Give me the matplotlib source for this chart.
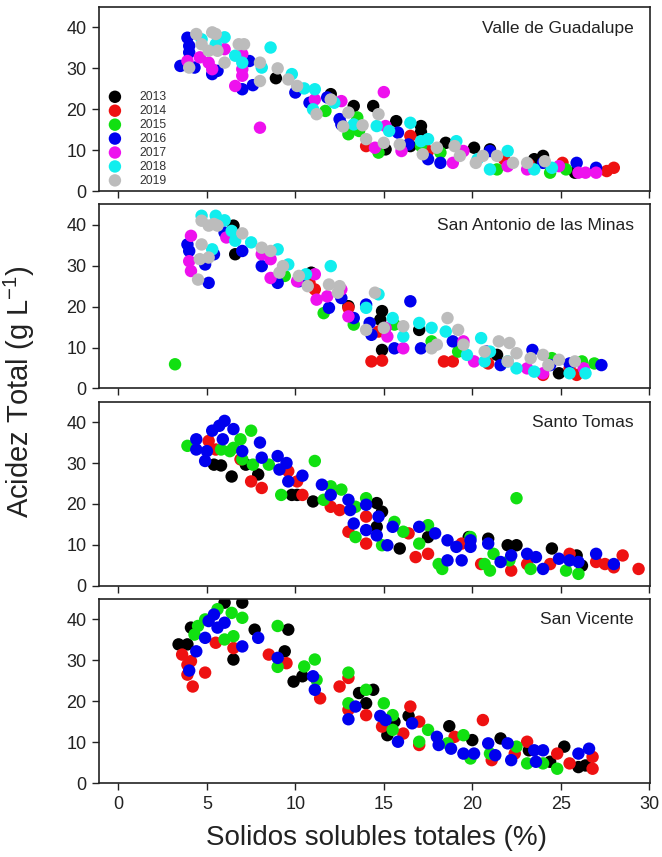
import matplotlib
matplotlib.use("Agg")
import matplotlib.pyplot as plt

plt.rcParams['font.family'] = ['Liberation Sans', 'DejaVu Sans']
plt.rcParams['mathtext.fontset'] = 'custom'
plt.rcParams['mathtext.rm'] = 'Liberation Sans'
plt.rcParams['mathtext.it'] = 'Liberation Sans:italic'
plt.rcParams['mathtext.bf'] = 'Liberation Sans:bold'

years = ["2013", "2014", "2015", "2016", "2017", "2018", "2019"]
colors = ["#000000", "#ee1111", "#11e011", "#0000ee", "#ee11ee", "#11eeee", "#bcbcbc"]
sites = ["Valle de Guadalupe", "San Antonio de las Minas", "Santo Tomas", "San Vicente"]

# Valle de Guadalupe: solidos solubles (x) vs acidez total (y), by year
vg_x = {
    "2013": [8.9, 12.0, 13.3, 14.4, 15.1, 15.7, 17.1, 17.1, 18.5, 20.1, 21.0, 23.5, 24.0, 25.8, 16.5],
    "2014": [14.0, 16.5, 17.5, 21.8, 25.1, 27.6, 28.0, 23.2],
    "2015": [11.7, 13.0, 13.5, 13.6, 14.7, 17.1, 21.4, 24.4, 25.3, 18.2],
    "2016": [3.5, 3.9, 4.0, 4.0, 4.3, 5.3, 5.6, 7.4, 7.0, 7.6, 10.0, 10.8, 11.8, 12.5, 12.6, 15.8,
             16.4, 17.5, 18.2, 21.0, 25.9, 27.0, 24.0],
    "2017": [3.9, 4.6, 5.1, 5.3, 6.0, 6.6, 7.0, 7.0, 7.0, 8.0, 11.1, 12.6, 14.5, 15.0, 15.1, 16.0,
             18.9, 22.0, 23.1, 24.9, 26.0, 26.4, 27.0, 19.5],
    "2018": [4.7, 6.0, 5.5, 6.6, 7.0, 8.1, 8.6, 9.8, 10.5, 11.1, 11.0, 12.2, 13.3, 14.6, 15.3, 16.5,
             17.1, 19.1, 20.3, 21.0, 22.0, 23.5, 24.5, 17.5],
    "2019": [4.4, 5.3, 5.5, 4.7, 5.1, 5.6, 6.0, 4.0, 6.8, 7.1, 8.0, 8.0, 9.0, 9.6, 10.1, 11.2, 12.0,
             12.7, 13.0, 13.8, 14.0, 14.7, 15.0, 15.9, 17.2, 18.0, 19.0, 19.3, 20.2, 20.6, 21.4, 22.3,
             23.1, 24.1],
}
vg_y = {
    "2013": [27.6, 23.7, 20.8, 20.8, 10.2, 17.1, 15.9, 14.4, 11.8, 10.6, 10.2, 7.8, 8.6, 4.5, 11.0],
    "2014": [11.0, 13.5, 9.8, 7.8, 6.9, 4.9, 5.7, 6.5],
    "2015": [19.6, 13.9, 18.0, 14.7, 9.4, 11.0, 5.3, 4.5, 5.3, 9.4],
    "2016": [30.6, 37.5, 35.5, 33.9, 30.2, 28.6, 29.4, 31.8, 24.9, 25.9, 24.1, 21.6, 22.9, 17.6, 16.3,
             14.3, 11.4, 7.8, 6.9, 9.8, 6.9, 5.7, 6.9],
    "2017": [31.8, 32.7, 31.4, 29.8, 34.7, 25.7, 28.2, 33.5, 29.8, 15.5, 22.4, 22.0, 10.6, 24.2, 15.9,
             9.8, 6.9, 6.1, 5.3, 6.1, 4.5, 4.5, 4.5, 9.8],
    "2018": [37.1, 37.6, 35.9, 33.1, 31.4, 30.2, 35.1, 28.6, 25.1, 24.9, 20.0, 21.6, 16.3, 15.9, 14.7,
             16.7, 12.2, 12.2, 7.8, 5.3, 9.8, 5.3, 5.7, 12.7],
    "2019": [38.4, 38.8, 38.4, 35.9, 34.3, 34.3, 31.4, 30.2, 35.9, 35.9, 31.4, 26.9, 30.0, 27.3, 25.7,
             18.8, 22.4, 15.8, 19.2, 16.1, 12.7, 18.8, 11.8, 11.4, 9.0, 10.6, 11.0, 8.6, 6.9, 8.6, 8.6,
             6.9, 6.9, 7.3],
}

# San Antonio de las Minas
sa_x = {
    "2013": [6.5, 6.6, 10.9, 13.0, 14.9, 14.9, 14.8, 17.0, 21.4, 24.9],
    "2014": [10.8, 11.1, 13.0, 14.3, 14.9, 14.7, 18.4, 18.9, 20.9, 24.0, 25.9, 25.5],
    "2015": [3.2, 9.4, 11.6, 13.3, 15.6, 17.7, 19.2, 24.5, 26.2, 26.9],
    "2016": [3.9, 4.0, 5.1, 4.9, 5.4, 6.0, 7.0, 8.1, 9.0, 10.2, 11.9, 12.6, 13.3, 14.0, 14.3, 14.2,
             15.6, 16.5, 17.1, 18.9, 20.8, 23.4, 24.4, 25.5, 27.3, 21.6],
    "2017": [4.0, 4.1, 4.1, 6.1, 8.1, 8.6, 8.6, 10.1, 11.1, 11.2, 11.8, 12.6, 13.0, 15.2, 15.1, 16.1,
             19.5, 20.1, 23.1, 24.0, 26.3],
    "2018": [4.7, 5.5, 6.0, 6.4, 6.6, 7.5, 9.0, 9.6, 10.6, 12.0, 14.0, 14.7, 5.3, 15.5, 17.0, 17.7,
             18.5, 20.5, 16.1, 19.7, 20.7, 22.0, 22.5, 23.5, 25.5, 26.4, 21.0],
    "2019": [4.7, 5.1, 5.4, 5.6, 4.7, 4.6, 4.5, 5.1, 7.0, 8.1, 8.6, 9.1, 9.3, 10.2, 10.7, 11.9, 12.5,
             12.4, 14.0, 14.5, 15.0, 16.1, 17.7, 18.6, 19.2, 18.0, 19.5, 21.5, 22.1, 20.7, 22.5, 23.3,
             24.0, 24.3, 24.9, 25.8, 22.0],
}
sa_y = {
    "2013": [39.8, 32.8, 28.3, 20.1, 18.9, 9.4, 16.8, 14.3, 8.2, 3.7],
    "2014": [25.8, 24.2, 19.7, 6.6, 6.8, 13.9, 6.6, 6.6, 6.1, 3.3, 3.3, 4.9],
    "2015": [5.9, 27.5, 18.4, 15.6, 15.6, 11.5, 9.0, 7.4, 6.6, 6.1],
    "2016": [35.2, 33.6, 25.8, 30.3, 32.8, 38.1, 33.6, 29.9, 25.8, 26.2, 19.7, 22.1, 17.2, 20.5, 13.1,
             16.0, 9.8, 21.3, 9.8, 11.5, 9.0, 9.4, 5.7, 6.1, 5.7, 5.7],
    "2017": [31.1, 28.7, 37.3, 36.9, 32.8, 31.6, 27.0, 26.2, 27.9, 21.7, 22.5, 24.2, 17.6, 12.7, 14.8,
             9.8, 11.5, 6.6, 4.9, 3.7, 4.9],
    "2018": [42.2, 42.2, 41.1, 38.5, 36.1, 35.7, 34.0, 30.3, 27.9, 29.9, 19.7, 23.0, 34.0, 17.2, 16.0,
             14.8, 13.9, 12.3, 12.7, 8.2, 6.6, 6.6, 4.9, 4.1, 3.7, 3.7, 9.0],
    "2019": [41.0, 39.8, 40.2, 39.8, 35.2, 31.6, 26.6, 32.0, 37.9, 34.4, 33.6, 28.3, 29.9, 27.5, 25.0,
             25.4, 25.0, 23.4, 14.3, 23.4, 14.8, 15.2, 9.8, 17.2, 14.3, 10.7, 10.7, 11.5, 11.1, 9.0, 8.6,
             7.4, 8.2, 5.7, 7.0, 6.6, 6.6],
}

# Santo Tomas (2013-2016 only)
st_x = {
    "2013": [5.4, 5.8, 6.4, 7.9, 9.8, 10.1, 11.0, 14.6, 14.9, 14.6, 15.9, 7.2, 17.5, 19.8, 20.9, 22.0,
             22.5, 24.5, 25.9, 26.2],
    "2014": [5.1, 5.5, 7.5, 8.1, 6.9, 9.6, 10.1, 10.4, 12.0, 12.5, 13.0, 14.0, 14.0, 16.8, 16.4, 17.5,
             19.4, 20.5, 22.2, 23.1, 25.5, 27.0, 27.5, 28.0, 28.5, 29.4, 24.4],
    "2015": [3.9, 6.3, 6.9, 7.5, 7.0, 7.6, 8.5, 9.2, 11.1, 11.6, 12.0, 12.6, 13.4, 14.0, 13.4, 14.9,
             15.6, 5.8, 6.5, 16.1, 17.0, 17.5, 18.1, 18.3, 19.9, 20.7, 21.0, 22.5, 22.1, 23.3, 25.3,
             26.0, 21.2],
    "2016": [4.4, 4.4, 5.0, 4.9, 5.3, 5.7, 6.0, 5.9, 6.5, 7.0, 8.0, 8.1, 9.0, 9.5, 9.1, 9.6, 10.4,
             11.5, 12.0, 13.0, 13.1, 13.3, 14.0, 14.7, 14.0, 14.6, 15.5, 15.2, 17.0, 17.9, 18.6, 19.1,
             18.6, 19.4, 19.9, 20.9, 21.6, 22.2, 23.1, 23.6, 24.0, 24.9, 25.5, 26.0, 27.0, 28.0, 19.9],
}
st_y = {
    "2013": [29.6, 29.4, 26.7, 27.2, 22.2, 22.2, 20.6, 20.2, 18.1, 14.4, 9.1, 29.6, 11.9, 11.9, 11.5,
             9.9, 9.9, 9.1, 7.4, 4.9],
    "2014": [35.4, 33.3, 25.5, 23.9, 30.9, 28.0, 25.5, 22.2, 19.3, 18.5, 13.2, 10.3, 16.9, 7.0, 12.8,
             7.8, 10.3, 5.3, 3.7, 5.3, 7.8, 5.8, 5.3, 4.5, 7.4, 4.1, 5.3],
    "2015": [34.2, 32.9, 35.8, 37.9, 30.9, 29.6, 29.6, 22.2, 30.5, 21.0, 24.3, 23.5, 19.3, 21.4, 11.9,
             9.9, 15.6, 33.3, 33.7, 13.2, 10.3, 14.8, 5.3, 4.1, 11.9, 5.3, 3.7, 21.4, 6.2, 4.1, 3.7,
             2.9, 7.8],
    "2016": [35.8, 33.3, 32.9, 30.5, 37.9, 39.1, 40.3, 35.8, 38.3, 32.9, 35.0, 31.3, 31.7, 30.0, 28.4,
             25.5, 26.9, 24.7, 22.2, 21.0, 18.5, 15.2, 19.8, 16.9, 13.6, 12.3, 14.4, 9.9, 14.4, 12.8,
             11.1, 9.5, 6.2, 6.2, 11.1, 10.3, 5.8, 7.4, 7.8, 7.0, 4.1, 6.6, 6.2, 5.8, 7.8, 5.3, 9.5],
}

# San Vicente (2013-2016 only)
sv_x = {
    "2013": [3.4, 3.9, 4.1, 6.0, 7.0, 7.7, 6.5, 9.4, 9.6, 9.9, 10.4, 13.6, 14.4, 14.0, 15.2, 15.6,
             16.4, 18.7, 20.0, 21.6, 23.2, 25.2, 26.0, 26.4, 24.4],
    "2014": [3.6, 3.9, 3.9, 4.1, 4.2, 4.9, 5.5, 6.5, 8.5, 9.5, 11.4, 12.5, 13.0, 13.0, 14.0, 14.9,
             16.5, 17.0, 17.0, 16.1, 19.0, 20.6, 21.1, 23.1, 24.8, 25.5, 26.8, 26.8, 22.4],
    "2015": [4.5, 4.9, 5.6, 6.4, 7.0, 6.0, 6.5, 9.0, 9.0, 10.5, 11.1, 11.2, 13.0, 13.0, 14.0, 15.0,
             15.5, 15.5, 4.3, 17.0, 17.5, 19.5, 19.9, 21.0, 22.5, 23.1, 24.0, 24.8, 18.6],
    "2016": [4.0, 4.4, 4.9, 5.1, 5.4, 5.6, 6.0, 7.0, 7.9, 9.0, 11.0, 11.1, 13.0, 13.4, 14.8, 15.1,
             15.8, 16.6, 18.0, 18.1, 18.8, 19.5, 20.1, 20.9, 21.3, 22.0, 22.2, 23.5, 23.6, 24.0, 26.0,
             26.6],
}
sv_y = {
    "2013": [33.9, 33.9, 38.0, 44.1, 44.1, 37.5, 30.2, 32.2, 37.5, 24.8, 26.1, 22.0, 22.8, 19.5, 11.7,
             15.0, 16.4, 13.9, 10.5, 10.9, 8.0, 8.9, 3.9, 4.3, 5.2],
    "2014": [31.4, 28.9, 26.5, 29.8, 23.6, 27.0, 34.3, 33.0, 31.4, 29.3, 20.7, 23.6, 25.7, 17.9, 16.6,
             13.8, 18.7, 15.0, 9.3, 12.1, 11.3, 15.4, 5.6, 10.1, 7.2, 4.8, 6.4, 3.5, 7.2],
    "2015": [38.4, 40.0, 42.5, 41.6, 40.4, 35.1, 35.9, 38.4, 28.4, 28.5, 30.2, 25.2, 27.0, 19.5, 22.8,
             19.5, 16.6, 13.0, 36.3, 10.1, 13.0, 11.7, 6.0, 7.2, 8.9, 4.8, 4.8, 3.5, 9.7],
    "2016": [27.5, 32.2, 35.5, 39.6, 41.2, 38.0, 39.2, 33.4, 35.5, 30.6, 26.1, 22.8, 15.6, 18.7, 16.4,
             15.4, 10.1, 14.6, 11.3, 9.3, 8.4, 7.2, 7.2, 9.7, 6.8, 9.7, 5.6, 8.0, 5.2, 8.0, 7.2, 8.4],
}

data = [(vg_x, vg_y), (sa_x, sa_y), (st_x, st_y), (sv_x, sv_y)]

fig, axes = plt.subplots(4, 1, figsize=(6.62, 8.57), dpi=100, sharex=True)
fig.subplots_adjust(left=0.1495, right=0.982, top=0.9918, bottom=0.0863, hspace=0.072)

for ax, site, (xs, ys) in zip(axes, sites, data):
    for yr, col in zip(years, colors):
        if yr in xs:
            ax.scatter(xs[yr], ys[yr], s=80, color=col, edgecolors="none", label=yr)
    ax.set_xlim(-1.1, 30.05)
    ax.set_ylim(0, 45)
    ax.set_yticks([0, 10, 20, 30, 40])
    ax.set_xticks([0, 5, 10, 15, 20, 25, 30])
    ax.tick_params(direction="out", length=5, width=1, labelsize=13, pad=4, colors="#222222")
    ax.tick_params(axis="x", labelbottom=(ax is axes[-1]))
    for sp in ax.spines.values():
        sp.set_linewidth(1.2)
        sp.set_color("#222222")
    ax.text(0.971, 0.886, site, transform=ax.transAxes, ha="right", va="center",
            fontsize=12.5, color="#222222")

leg = axes[0].legend(loc="upper left", bbox_to_anchor=(0.018, 0.544), frameon=False,
                     fontsize=8.7, handletextpad=1.55, labelspacing=0.16, borderpad=0,
                     borderaxespad=0, handlelength=1.0)
for t in leg.get_texts():
    t.set_color("#333333")

fig.text(0.03, 0.543, "Acidez Total (g L$^{-1}$)", rotation=90, ha="center", va="center",
         fontsize=21, color="#222222")
fig.text(0.568, 0.022, "Solidos solubles totales (%)", ha="center", va="center",
         fontsize=20, color="#222222")

fig.savefig("out.png", dpi=100)
